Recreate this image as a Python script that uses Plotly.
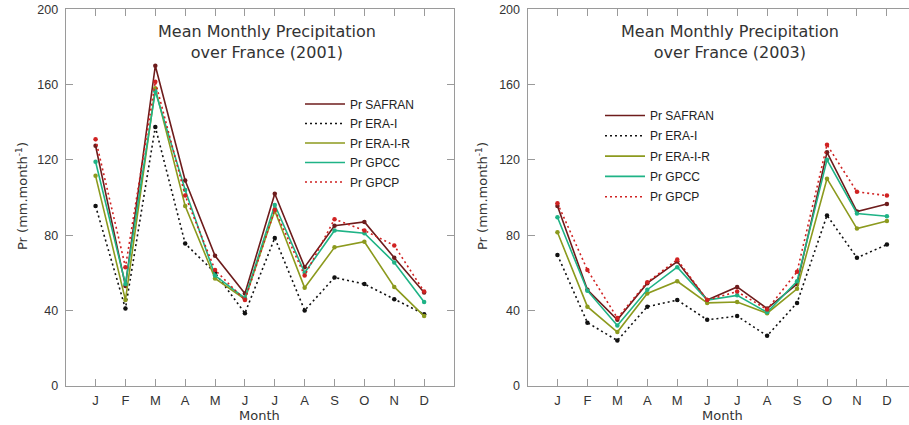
import plotly.graph_objects as go

# Month labels and positions on the x axis
months = ["J", "F", "M", "A", "M", "J", "J", "A", "S", "O", "N", "D"]
month_pos = list(range(1, 13))

series_names = ["Pr SAFRAN", "Pr ERA-I", "Pr ERA-I-R", "Pr GPCC", "Pr GPCP"]

# Mean monthly precipitation over France, 2001 (mm/month)
safran_2001 = [127.5, 53, 170, 109, 69, 49, 102, 63, 85, 87, 68, 49.5]
erai_2001 = [95.5, 41, 137.5, 75.5, 60, 38.5, 78.5, 40, 57.5, 54, 46, 38]
erair_2001 = [111.5, 45.5, 158, 95.5, 57, 46, 93, 52, 73.5, 76.5, 52.5, 37]
gpcc_2001 = [119, 54, 156.5, 104, 58.5, 46.5, 96, 60, 82.5, 81, 65.5, 44.5]
gpcp_2001 = [131, 63, 161.5, 101, 61.5, 45.5, 93.5, 58.5, 88.5, 82.5, 74.5, 50]

# Mean monthly precipitation over France, 2003 (mm/month)
safran_2003 = [95.5, 51, 35, 54.5, 66, 45.5, 52.5, 41, 54, 124, 92.5, 96.5]
erai_2003 = [69.5, 33.5, 24, 42, 45.5, 35, 37, 26.5, 44, 90.5, 68, 75]
erair_2003 = [81.5, 42, 28.5, 49, 55.5, 44, 44.5, 38.5, 51.5, 110, 83.5, 87.5]
gpcc_2003 = [89.5, 50.5, 32, 51, 63, 45.5, 48, 39, 55.5, 120, 91.5, 90]
gpcp_2003 = [97, 61.5, 36, 55, 67, 45.5, 50, 40.5, 60.5, 128, 103, 101]

y_ticks = [0, 40, 80, 120, 160, 200]

styles = [
    dict(color="#6e1c1c", dash="solid"),
    dict(color="#111111", dash="2px,3px"),
    dict(color="#8c9a1e", dash="solid"),
    dict(color="#1fb386", dash="solid"),
    dict(color="#d02222", dash="2px,3px"),
]

W, H = 909, 425

fig = go.Figure()

panels = [
    ([safran_2001, erai_2001, erair_2001, gpcc_2001, gpcp_2001], "x", "y", "legend", "2001"),
    ([safran_2003, erai_2003, erair_2003, gpcc_2003, gpcp_2003], "x2", "y2", "legend2", "2003"),
]
for values, xa, ya, lg, year in panels:
    for name, vals, st in zip(series_names, values, styles):
        group = f"{name} {year}"
        # connecting line (shown in the legend)
        fig.add_trace(go.Scatter(
            x=month_pos, y=vals, name=name, mode="lines",
            xaxis=xa, yaxis=ya, legend=lg, legendgroup=group,
            line=dict(color=st["color"], width=1.6, dash=st["dash"]),
        ))
        # monthly value dots
        fig.add_trace(go.Scatter(
            x=month_pos, y=vals, name=name, mode="markers",
            xaxis=xa, yaxis=ya, legend=lg, legendgroup=group, showlegend=False,
            marker=dict(color=st["color"], size=4.5),
        ))

axis_color = "#9a9a9a"
tick_font = dict(family="Liberation Sans, Arial, sans-serif", size=13, color="#333333")
ytick_font = dict(family="Liberation Sans, Arial, sans-serif", size=12.5, color="#333333")

def xaxis_cfg(domain, rng, mirror):
    return dict(
        domain=domain, range=rng, tickmode="array", tickvals=month_pos, ticktext=months,
        showline=True, linecolor=axis_color, linewidth=1, mirror=mirror,
        ticks="inside", ticklen=7, tickcolor=axis_color, showgrid=False, zeroline=False,
        tickfont=tick_font, ticklabelstandoff=3, automargin=False,
    )

def yaxis_cfg(domain, anchor, mirror):
    return dict(
        domain=domain, range=[0, 200], tickmode="array", tickvals=y_ticks, anchor=anchor,
        showline=True, linecolor=axis_color, linewidth=1, mirror=mirror,
        ticks="inside", ticklen=7, tickcolor=axis_color, showgrid=False, zeroline=False,
        tickfont=ytick_font, ticklabelstandoff=4, automargin=False,
    )

ydom = [(H - 385.7) / H, (H - 9.3) / H]
left_dom = [65.7 / W, 454 / W]
right_dom = [527.5 / W, 1.0]
right_max = (W - 527.5) / 29.95

title_font = dict(family="DejaVu Sans, sans-serif", size=16, color="#333333")
label_font = dict(family="DejaVu Sans, sans-serif", size=13, color="#333333")
legend_font = dict(family="Liberation Sans, Arial, sans-serif", size=12, color="#222222")

def note(text, x, y, **kw):
    return dict(text=text, x=x / W, y=1 - y / H, xref="paper", yref="paper",
                xanchor="center", yanchor="middle", showarrow=False, **kw)

fig.update_layout(
    width=W, height=H,
    margin=dict(l=0, r=0, t=0, b=0, autoexpand=False),
    paper_bgcolor="white", plot_bgcolor="white",
    xaxis=xaxis_cfg(left_dom, [0, 13], "ticks"),
    yaxis=yaxis_cfg(ydom, "x", "ticks"),
    xaxis2=xaxis_cfg(right_dom, [0, right_max], "ticks"),
    yaxis2=yaxis_cfg(ydom, "x2", False),
    legend=dict(x=300 / W, y=1 - 89.5 / H, xanchor="left", yanchor="top", itemwidth=40,
                tracegroupgap=0.5, bgcolor="rgba(255,255,255,0)", font=legend_font),
    legend2=dict(x=600 / W, y=1 - 101 / H, xanchor="left", yanchor="top", itemwidth=40,
                 tracegroupgap=1.3, bgcolor="rgba(255,255,255,0)", font=legend_font),
    annotations=[
        note("Mean Monthly Precipitation<br>over France (2001)", 267, 42.5, font=title_font, align="center"),
        note("Mean Monthly Precipitation<br>over France (2003)", 730, 42.5, font=title_font, align="center"),
        note("Month", 259, 415, font=label_font),
        note("Month", 722, 415, font=label_font),
        note("Pr (mm.month<sup>-1</sup>)", 22, 196, textangle=-90, font=label_font),
        note("Pr (mm.month<sup>-1</sup>)", 482, 196, textangle=-90, font=label_font),
    ],
)

fig.write_html("out.html")
